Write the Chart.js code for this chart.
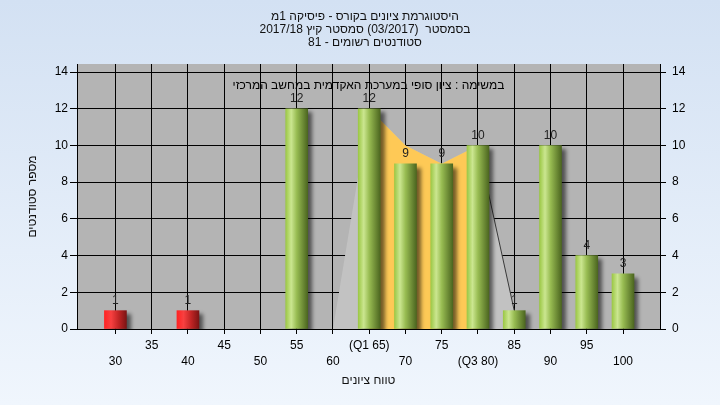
<!DOCTYPE html>
<html><head><meta charset="utf-8">
<script src="https://cdn.jsdelivr.net/npm/chart.js@4.4.1/dist/chart.umd.min.js"></script>
<style>html,body{margin:0;padding:0;background:#fff}canvas{display:block}</style>
</head><body>
<canvas id="c" width="720" height="405"></canvas>
<script>
// ---- data ----
const grades = [30, 40, 55, 65, 70, 75, 80, 85, 90, 95, 100];
const counts = [1, 1, 12, 12, 9, 9, 10, 1, 10, 4, 3];
const passMark = 55;
const tickValues = [30, 35, 40, 45, 50, 55, 60, 65, 70, 75, 80, 85, 90, 95, 100];
const tickLabels = ['30', '35', '40', '45', '50', '55', '60', '(Q1 65)', '70', '75', '(Q3 80)', '85', '90', '95', '100'];
const yTickValues = [0, 2, 4, 6, 8, 10, 12, 14];
const spreadX = [60, 65, 70, 75, 80, 85];
const spreadY = [0, 12, 10, 9, 10, 1];
const iqrX = [65, 70, 75, 80];
const iqrY = [12, 10, 9, 10];
const tailX = [80, 85];
const tailY = [10, 1];
const titleLines = ['היסטוגרמת ציונים בקורס - פיסיקה 1מ', 'בסמסטר  (03/2017) סמסטר קיץ 2017/18', 'סטודנטים רשומים - 81'];
const noteText = 'במשימה : ציון סופי במערכת האקדמית במחשב המרכזי';
const xTitle = 'טווח ציונים';
const yTitle = 'מספר סטודנטים';

// ---- styling ----
const FONT = "Arial, 'Liberation Sans', 'DejaVu Sans', sans-serif";
const BAR_W = 22;
const pts = (xs, ys) => xs.map((x, i) => ({x: x, y: ys[i]}));

function barFill(c) {
  const chart = c.chart, xs = chart.scales && chart.scales.x;
  const raw = c.raw;
  const fallback = raw && raw.x < passMark ? '#d02020' : '#9cc44a';
  if (c.type !== 'data' || !xs || !raw) return fallback;
  const cx = xs.getPixelForValue(raw.x);
  if (!isFinite(cx)) return fallback;
  const g = chart.ctx.createLinearGradient(cx - BAR_W / 2, 0, cx + BAR_W / 2, 0);
  if (raw.x < passMark) {
    g.addColorStop(0, '#ff2323'); g.addColorStop(0.3, '#f84040');
    g.addColorStop(0.65, '#c02424'); g.addColorStop(1, '#7c1414');
  } else {
    g.addColorStop(0, '#9cc846'); g.addColorStop(0.25, '#cbe690');
    g.addColorStop(0.5, '#98bc52'); g.addColorStop(1, '#4c6620');
  }
  return g;
}

const bgPlugin = {
  id: 'bg',
  beforeDraw(chart) {
    const ctx = chart.ctx, a = chart.chartArea;
    ctx.save();
    const g = ctx.createLinearGradient(0, 0, 0, chart.height);
    g.addColorStop(0, '#d3e1f3'); g.addColorStop(1, '#f0f6fd');
    ctx.fillStyle = g; ctx.fillRect(0, 0, chart.width, chart.height);
    ctx.fillStyle = '#b4b4b4';
    ctx.fillRect(a.left, a.top, a.right - a.left, a.bottom - a.top);
    ctx.restore();
  }
};

const shadowPlugin = {
  id: 'shadow',
  beforeDatasetDraw(chart, args) {
    if (args.meta.type !== 'bar') return;
    const ctx = chart.ctx;
    ctx.save();
    ctx.shadowColor = 'rgba(0,0,0,0.55)';
    ctx.shadowBlur = 4; ctx.shadowOffsetX = 4; ctx.shadowOffsetY = 4;
  },
  afterDatasetDraw(chart, args) {
    if (args.meta.type !== 'bar') return;
    chart.ctx.restore();
  }
};

const labelPlugin = {
  id: 'vals',
  afterDatasetsDraw(chart) {
    const ctx = chart.ctx;
    chart.data.datasets.forEach((ds, di) => {
      const meta = chart.getDatasetMeta(di);
      if (meta.type !== 'bar') return;
      ctx.save();
      ctx.font = '12px ' + FONT; ctx.fillStyle = '#222';
      ctx.textAlign = 'center'; ctx.textBaseline = 'middle';
      meta.data.forEach((el, i) => ctx.fillText(String(ds.data[i].y), el.x, el.y - 10));
      ctx.restore();
    });
  }
};

const textPlugin = {
  id: 'texts',
  afterDraw(chart) {
    const ctx = chart.ctx, a = chart.chartArea;
    ctx.save();
    ctx.fillStyle = '#111'; ctx.font = '12px ' + FONT;
    ctx.textAlign = 'center'; ctx.textBaseline = 'middle'; ctx.direction = 'rtl';
    titleLines.forEach((t, i) => ctx.fillText(t, 365, 17 + i * 13));
    ctx.fillStyle = '#000';
    ctx.fillText(noteText, (a.left + a.right) / 2, 86);
    ctx.fillStyle = '#111';
    ctx.fillText(xTitle, (a.left + a.right) / 2, 381);
    ctx.translate(33, (a.top + a.bottom) / 2);
    ctx.rotate(-Math.PI / 2);
    ctx.fillText(yTitle, 0, 0);
    ctx.restore();
  }
};

const yTicksCommon = {
  color: '#000', font: {size: 12, family: FONT}
};

new Chart(document.getElementById('c'), {
  type: 'bar',
  data: {
    datasets: [
      {type: 'bar', data: pts(grades, counts), backgroundColor: barFill, borderWidth: 0, barThickness: BAR_W, order: 0},
      {type: 'line', data: pts(tailX, tailY), borderColor: '#3a3a3a', borderWidth: 1, pointRadius: 0, fill: false, order: 1},
      {type: 'line', data: pts(iqrX, iqrY), borderWidth: 0, borderColor: 'rgba(0,0,0,0)', backgroundColor: '#fec956', pointRadius: 0, fill: 'origin', order: 2},
      {type: 'line', data: pts(spreadX, spreadY), borderWidth: 0, borderColor: 'rgba(0,0,0,0)', backgroundColor: '#c2c2c2', pointRadius: 0, fill: 'origin', order: 3}
    ]
  },
  options: {
    responsive: false, animation: false, devicePixelRatio: 1,
    layout: {padding: {top: 64, left: 0, right: 0, bottom: 0}},
    plugins: {legend: {display: false}, tooltip: {enabled: false}, title: {display: false}},
    scales: {
      x: {
        type: 'linear', min: 24.7, max: 105.1, offset: false,
        grid: {color: '#000', lineWidth: 1, tickLength: 5, offset: false},
        border: {color: '#000', width: 1},
        afterBuildTicks: s => { s.ticks = tickValues.map(v => ({value: v})); },
        afterFit: s => { s.height = 76; },
        ticks: {
          color: '#000', font: {size: 12, family: FONT, lineHeight: 16 / 12}, padding: 4, maxRotation: 0, autoSkip: false,
          callback: (v, i) => (i % 2 === 0 ? ['', tickLabels[i]] : [tickLabels[i], ''])
        }
      },
      y: {
        position: 'left', min: 0, max: 14.44,
        grid: {color: '#000', lineWidth: 1, tickLength: 7},
        border: {color: '#000', width: 1},
        afterBuildTicks: s => { s.ticks = yTickValues.map(v => ({value: v})); },
        afterFit: s => { s.width = 77; },
        ticks: Object.assign({padding: 2}, yTicksCommon)
      },
      y2: {
        position: 'right', min: 0, max: 14.44,
        grid: {drawOnChartArea: false, color: '#000', tickLength: 6},
        border: {color: '#000', width: 1},
        afterBuildTicks: s => { s.ticks = yTickValues.map(v => ({value: v})); },
        afterFit: s => { s.width = 60; },
        ticks: Object.assign({padding: 6}, yTicksCommon)
      }
    }
  },
  plugins: [bgPlugin, shadowPlugin, labelPlugin, textPlugin]
});
</script>
</body></html>
